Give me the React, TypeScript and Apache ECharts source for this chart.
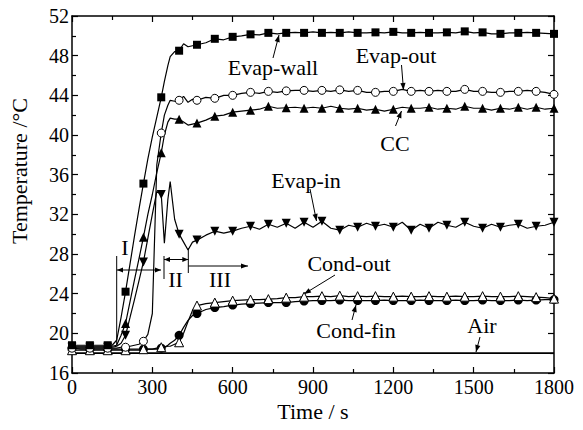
import React, { useEffect, useRef } from "react";
import * as echarts from "echarts";

// ---------- data ----------
const TIME = [
  0, 33.3, 66.7, 100, 133.3,
  150, 166.7, 183.3, 200, 216.7, 233.3, 250, 266.7, 283.3, 300,
  316.7, 333.3, 345, 358, 366.7, 383.3, 400, 416.7, 433.3, 450,
  466.7, 500, 533.3, 566.7, 600, 633.3, 666.7, 700, 733.3, 766.7,
  800, 833.3, 866.7, 900, 933.3, 966.7, 1000, 1033.3, 1066.7, 1100,
  1133.3, 1166.7, 1200, 1233.3, 1266.7, 1300, 1333.3, 1366.7, 1400, 1433.3,
  1466.7, 1500, 1533.3, 1566.7, 1600, 1633.3, 1666.7, 1700, 1733.3, 1766.7,
  1800,
];

const EVAP_WALL = [
  18.8, 18.8, 18.8, 18.8, 18.8,
  18.8, 19.3, 21.6, 24.2, 27.0, 29.8, 32.5, 35.1, 37.6, 39.8,
  41.8, 43.8, 45.4, 47.0, 47.9, 48.4, 48.5, 49.2, 48.9, 49.0,
  49.1, 49.3, 49.7, 49.6, 49.9, 50.0, 50.15, 50.1, 50.3, 50.2,
  50.3, 50.35, 50.3, 50.4, 50.3, 50.35, 50.3, 50.4, 50.3, 50.3,
  50.35, 50.3, 50.4, 50.3, 50.3, 50.35, 50.3, 50.3, 50.35, 50.3,
  50.45, 50.3, 50.35, 50.2, 50.2, 50.3, 50.3, 50.35, 50.3, 50.25,
  50.2,
];

const EVAP_OUT = [
  18.5, 18.5, 18.5, 18.5, 18.5,
  18.5, 18.5, 18.6, 18.6, 18.7, 18.8, 18.9, 19.2, 19.9, 22.0,
  37.0, 40.2, 42.0, 43.0, 43.5, 43.4, 43.5, 43.9, 43.3, 43.6,
  43.5, 43.8, 43.7, 44.0, 44.0, 44.2, 44.3, 44.2, 44.4, 44.3,
  44.45, 44.5, 44.5, 44.4, 44.5, 44.4, 44.55, 44.4, 44.5, 44.3,
  44.3, 44.4, 44.4, 44.6, 44.4, 44.5, 44.4, 44.5, 44.4, 44.4,
  44.6, 44.4, 44.4, 44.3, 44.3, 44.4, 44.4, 44.5, 44.4, 44.3,
  44.1,
];

const CC = [
  18.7, 18.7, 18.7, 18.7, 18.7,
  18.7, 18.8, 19.8, 21.0, 23.2, 25.4, 27.5, 29.7, 32.0, 34.0,
  36.2, 38.2, 40.0, 41.3, 41.7, 41.6, 41.6, 41.3, 41.0, 41.1,
  41.2, 41.5, 41.9, 42.0, 42.3, 42.4, 42.5, 42.6, 42.9, 42.7,
  42.75, 42.8, 42.7, 42.8, 42.7, 42.9, 42.7, 42.6, 42.7, 42.5,
  42.6, 42.4, 42.6, 42.8, 42.7, 42.7, 42.8, 42.6, 42.7, 42.6,
  42.9, 42.7, 42.7, 42.5, 42.7, 42.6, 42.8, 42.6, 42.8, 42.6,
  42.7,
];

const EVAP_IN = [
  18.6, 18.6, 18.6, 18.6, 18.6,
  18.6, 18.7, 19.0, 19.8, 21.6, 23.4, 25.3, 27.2, 29.6, 32.0,
  34.3, 34.0, 29.1, 33.5, 35.3, 31.5, 30.0, 29.2, 28.4, 29.2,
  29.4, 29.9, 30.3, 30.1, 30.3, 30.6, 30.8, 30.5, 31.0, 30.7,
  31.1, 30.6, 31.2, 30.7, 31.3, 30.6, 30.4, 30.9, 30.7, 31.1,
  30.8, 31.0, 30.7, 31.2, 30.4, 31.0, 30.6, 31.2, 30.9, 30.7,
  31.2, 30.8, 30.6, 31.0, 30.7, 30.9, 31.0, 30.6, 30.8, 30.9,
  31.2,
];

const COND_OUT = [
  18.3, 18.3, 18.3, 18.3, 18.3,
  18.3, 18.3, 18.3, 18.3, 18.3, 18.3, 18.3, 18.4, 18.4, 18.4,
  18.5, 18.6, 18.6, 18.7, 18.7, 18.9, 19.1, 20.0, 21.2, 22.3,
  22.8, 23.0, 23.1, 23.2, 23.3, 23.35, 23.4, 23.4, 23.45, 23.5,
  23.6, 23.6, 23.7, 23.7, 23.75, 23.7, 23.8, 23.7, 23.75, 23.7,
  23.75, 23.7, 23.7, 23.75, 23.7, 23.7, 23.75, 23.7, 23.7, 23.75,
  23.7, 23.7, 23.75, 23.7, 23.7, 23.7, 23.75, 23.7, 23.65, 23.6,
  23.5,
];

const COND_FIN = [
  18.5, 18.4, 18.4, 18.4, 18.4,
  18.4, 18.4, 18.4, 18.4, 18.4, 18.4, 18.4, 18.4, 18.4, 18.4,
  18.4, 18.5, 18.6, 18.8, 19.0, 19.3, 19.8, 20.6, 21.3, 21.8,
  22.0, 22.4, 22.6, 22.7, 22.85, 22.95, 23.0, 23.05, 23.1, 23.1,
  23.1, 23.2, 23.25, 23.3, 23.3, 23.3, 23.35, 23.3, 23.3, 23.3,
  23.3, 23.35, 23.3, 23.3, 23.3, 23.35, 23.3, 23.3, 23.3, 23.35,
  23.3, 23.3, 23.35, 23.3, 23.3, 23.3, 23.35, 23.3, 23.35, 23.4,
  23.4,
];

const AIR_TIME = [0, 300, 600, 900, 1200, 1500, 1800];
const AIR = [18.0, 18.0, 18.0, 18.0, 18.0, 18.0, 18.0];

const MARKER_STEP = 200 / 3; // a marker every 66.7 s

const FONT = "Liberation Serif, Times New Roman, Times, serif";

function isMarker(t: number) {
  const r = t / MARKER_STEP;
  return Math.abs(r - Math.round(r)) < 0.01;
}

function buildData(vals: number[]) {
  return TIME.map((t, i) => {
    const item: any = { value: [t, vals[i]] };
    if (!isMarker(t)) item.symbol = "none";
    return item;
  });
}

function arrowHead(x1: number, y1: number, x2: number, y2: number, L = 7, w = 2.6) {
  const dx = x2 - x1;
  const dy = y2 - y1;
  const len = Math.sqrt(dx * dx + dy * dy) || 1;
  const ux = dx / len;
  const uy = dy / len;
  const bx = x2 - ux * L;
  const by = y2 - uy * L;
  const nx = -uy;
  const ny = ux;
  return {
    type: "polygon",
    silent: true,
    shape: {
      points: [
        [x2, y2],
        [bx + nx * w, by + ny * w],
        [bx - nx * w, by - ny * w],
      ],
    },
    style: { fill: "#000" },
  };
}

function seg(x1: number, y1: number, x2: number, y2: number, lw = 1) {
  return {
    type: "line",
    silent: true,
    shape: { x1, y1, x2, y2 },
    style: { stroke: "#000", lineWidth: lw },
  };
}

function arrow(x1: number, y1: number, x2: number, y2: number) {
  return [seg(x1, y1, x2, y2), arrowHead(x1, y1, x2, y2)];
}

function doubleArrow(x1: number, y1: number, x2: number, y2: number) {
  return [seg(x1, y1, x2, y2), arrowHead(x1, y1, x2, y2, 6, 2.4), arrowHead(x2, y2, x1, y1, 6, 2.4)];
}

function label(text: string, x: number, y: number, size = 22, rotation = 0) {
  return {
    type: "text",
    silent: true,
    x,
    y,
    rotation,
    style: {
      text,
      fontFamily: FONT,
      fontSize: size,
      fontWeight: "normal",
      fill: "#000",
      align: "center",
      verticalAlign: "middle",
      textAlign: "center",
      textVerticalAlign: "middle",
    },
  };
}

export default function App() {
  const ref = useRef<HTMLDivElement>(null);

  useEffect(() => {
    if (!ref.current) return;
    const chart = echarts.init(ref.current, undefined, { renderer: "svg" });

    const lineBase = {
      type: "line",
      showSymbol: true,
      showAllSymbol: true,
      lineStyle: { color: "#000", width: 1.2 },
      emphasis: { disabled: true },
    };

    const axisCommonX = {
      type: "value",
      min: 0,
      max: 1800,
      interval: 300,
      splitLine: { show: false },
      axisLine: { show: true, onZero: false, lineStyle: { color: "#000", width: 1.5 } },
      axisTick: { show: true, inside: true, length: 6, lineStyle: { color: "#000", width: 1.2 } },
      minorTick: { show: true, splitNumber: 2, length: 4, lineStyle: { color: "#000", width: 1.2 } },
    };
    const axisCommonY = {
      type: "value",
      min: 16,
      max: 52,
      interval: 4,
      splitLine: { show: false },
      axisLine: { show: true, onZero: false, lineStyle: { color: "#000", width: 1.5 } },
      axisTick: { show: true, inside: true, length: 6, lineStyle: { color: "#000", width: 1.2 } },
      minorTick: { show: true, splitNumber: 2, length: 4, lineStyle: { color: "#000", width: 1.2 } },
    };

    const graphics: any[] = [
      label("Temperature /°C", 19, 171, 22, Math.PI / 2),
      label("Time / s", 313, 411, 22),
      label("Evap-wall", 273, 67),
      ...arrow(273, 58, 279, 35),
      label("Evap-out", 396, 55),
      ...arrow(401.5, 65, 403.5, 90),
      label("CC", 395, 143),
      ...arrow(395.5, 126, 401.5, 111),
      label("Evap-in", 306, 180),
      ...arrow(310, 189, 316.5, 221),
      label("Cond-out", 349, 263),
      ...arrow(335, 275, 304, 294),
      label("Cond-fin", 356, 330),
      ...arrow(352, 320, 356, 305),
      label("Air", 482, 325),
      ...arrow(480, 337, 476, 352),
      // stage I
      seg(116.7, 256, 116.7, 345),
      ...doubleArrow(117, 270, 161, 270),
      label("I", 125, 247),
      // stage II
      seg(164, 256, 164, 279),
      seg(188.3, 248, 188.3, 273),
      ...doubleArrow(164, 259.5, 188.3, 259.5),
      label("II", 175.5, 279),
      // stage III
      ...arrow(188.3, 266, 248, 266),
      label("III", 220, 279),
    ];

    const tickLabel = {
      show: true,
      color: "#000",
      fontSize: 20,
      fontFamily: FONT,
      fontWeight: "normal",
      formatter: (v: number) => String(v),
    };

    chart.setOption({
      animation: false,
      backgroundColor: "#fff",
      textStyle: { fontFamily: FONT, color: "#000", fontWeight: "normal" },
      grid: { left: 72, right: 29, top: 16, bottom: 57, containLabel: false },
      xAxis: [
        { ...axisCommonX, position: "bottom", axisLabel: { ...tickLabel, margin: 4 } },
        { ...axisCommonX, position: "top", axisLabel: { show: false } },
      ],
      yAxis: [
        { ...axisCommonY, position: "left", axisLabel: { ...tickLabel, margin: 3 } },
        { ...axisCommonY, position: "right", axisLabel: { show: false } },
      ],
      series: [
        {
          ...lineBase,
          name: "Air",
          data: AIR_TIME.map((t, i) => [t, AIR[i]]),
          showSymbol: false,
          symbol: "none",
          lineStyle: { color: "#000", width: 1.6 },
        },
        {
          ...lineBase,
          name: "Cond-fin",
          data: buildData(COND_FIN),
          symbol: "circle",
          symbolSize: 9,
          itemStyle: { color: "#000" },
        },
        {
          ...lineBase,
          name: "Cond-out",
          data: buildData(COND_OUT),
          symbol: "triangle",
          symbolSize: 9,
          itemStyle: { color: "#fff", borderColor: "#000", borderWidth: 1 },
        },
        {
          ...lineBase,
          name: "Evap-in",
          data: buildData(EVAP_IN),
          symbol: "triangle",
          symbolRotate: 180,
          symbolSize: 9,
          itemStyle: { color: "#000" },
        },
        {
          ...lineBase,
          name: "CC",
          data: buildData(CC),
          symbol: "triangle",
          symbolSize: 9,
          itemStyle: { color: "#000" },
        },
        {
          ...lineBase,
          name: "Evap-out",
          data: buildData(EVAP_OUT),
          symbol: "circle",
          symbolSize: 8,
          itemStyle: { color: "#fff", borderColor: "#000", borderWidth: 1 },
        },
        {
          ...lineBase,
          name: "Evap-wall",
          data: buildData(EVAP_WALL),
          symbol: "rect",
          symbolSize: 8,
          itemStyle: { color: "#000" },
        },
      ],
      graphic: { elements: graphics },
    });

    return () => {
      chart.dispose();
    };
  }, []);

  return (
    <div
      ref={ref}
      style={{ position: "fixed", left: 0, top: 0, width: 583, height: 430, background: "#fff" }}
    />
  );
}
